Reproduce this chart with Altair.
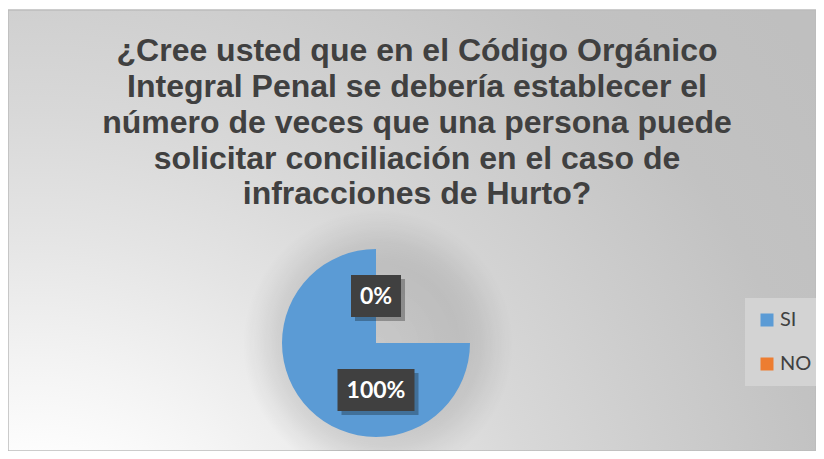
import math
import altair as alt
import pandas as pd

# ---- data ----
categories = ["SI", "NO"]
values = [100, 0]
colors = ["#5b9bd5", "#ed7d31"]
title_lines = [
    "¿Cree usted que en el Código Orgánico",
    "Integral Penal se debería establecer el",
    "número de veces que una persona puede",
    "solicitar conciliación en el caso de",
    "infracciones de Hurto?",
]

df = pd.DataFrame({"cat": categories, "value": values, "order": list(range(len(categories)))})

# ---- layout (styles) ----
W, H = 808, 441
CX, CY = 368, 333
R = 94
LABEL_DY = 47

bg_gradient = {
    "gradient": "radial",
    "x1": 0.03, "y1": 1.0, "r1": 0,
    "x2": 0.03, "y2": 1.0, "r2": 1.2,
    "stops": [
        {"offset": 0.0, "color": "#ffffff"},
        {"offset": 0.167, "color": "#ffffff"},
        {"offset": 0.283, "color": "#f3f3f3"},
        {"offset": 0.417, "color": "#e4e4e4"},
        {"offset": 0.54, "color": "#d8d8d8"},
        {"offset": 0.683, "color": "#cdcdcd"},
        {"offset": 0.833, "color": "#c2c2c2"},
        {"offset": 1.0, "color": "#bfbfbf"},
    ],
}

halo_gradient = {
    "gradient": "radial",
    "x1": 0.5, "y1": 0.5, "r1": 0,
    "x2": 0.5, "y2": 0.5, "r2": 0.5,
    "stops": [
        {"offset": 0.0, "color": "rgba(0,0,0,0.10)"},
        {"offset": 0.6, "color": "rgba(0,0,0,0.12)"},
        {"offset": 0.75, "color": "rgba(0,0,0,0.09)"},
        {"offset": 0.88, "color": "rgba(0,0,0,0.04)"},
        {"offset": 1.0, "color": "rgba(0,0,0,0)"},
    ],
}

one = alt.Data(values=[{"k": 1}])

bg = alt.Chart(one).mark_rect(fill=bg_gradient, stroke="#bcbcbc", strokeWidth=1.5).encode(
    x=alt.value(0), x2=alt.value("width"), y=alt.value(0), y2=alt.value("height")
)

halo = alt.Chart(one).mark_arc(
    theta=0, theta2=2 * math.pi, outerRadius=135, fill=halo_gradient, strokeWidth=0
).encode(x=alt.value(CX + 2), y=alt.value(CY + 2))

pie = alt.Chart(df).mark_arc(outerRadius=R, strokeWidth=0).encode(
    theta=alt.Theta("value:Q", stack=True, scale=alt.Scale(range=[math.pi / 2, 2 * math.pi])),
    color=alt.Color(
        "cat:N",
        scale=alt.Scale(domain=categories, range=colors),
        legend=alt.Legend(
            orient="none", legendX=737, legendY=288, title=None,
            fillColor="#d3d3d3", padding=12, symbolType="square", symbolSize=169,
            symbolStrokeWidth=0, labelFont="Lato", labelFontSize=20,
            labelColor="#404040", rowPadding=24, labelOffset=3,
        ),
    ),
    order=alt.Order("order:Q"),
    x=alt.value(CX), y=alt.value(CY),
)

labeled = alt.Chart(df).transform_joinaggregate(total="sum(value)").transform_calculate(
    label="format(datum.value / datum.total, '.0%')"
)

def box_shape(w, h):
    r = h / w
    return f"M-1,{-r} L1,{-r} L1,{r} L-1,{r} Z", w * w

layers = [bg, halo, pie]
for cat, dy, bw in [("SI", LABEL_DY, 77), ("NO", -LABEL_DY, 50)]:
    path, size = box_shape(bw, 42)
    sub = labeled.transform_filter(alt.datum.cat == cat)
    shadow = sub.mark_point(shape=path, size=size, filled=True, color="#000000", opacity=0.28, strokeWidth=0).encode(
        x=alt.value(CX + 4), y=alt.value(CY + dy + 4)
    )
    box = sub.mark_point(shape=path, size=size, filled=True, color="#404040", opacity=1, strokeWidth=0).encode(
        x=alt.value(CX), y=alt.value(CY + dy)
    )
    txt = sub.mark_text(font="Lato", fontWeight="bold", fontSize=23, color="#ffffff", baseline="middle", align="center").encode(
        text="label:N", x=alt.value(CX), y=alt.value(CY + dy + 1)
    )
    layers += [shadow, box, txt]

chart = alt.layer(*layers).properties(
    width=W, height=H,
    autosize=alt.AutoSizeParams(type="none"),
    padding={"left": 0, "top": 2, "right": 0, "bottom": 0},
    title=alt.TitleParams(
        text=title_lines, font="Liberation Sans", fontWeight="bold", fontSize=32,
        color="#404040", lineHeight=35.7, anchor="middle", orient="top", frame="group",
        offset=0, dy=227, dx=5, baseline="alphabetic",
    ),
).configure_view(stroke=None)

chart.save("out.html", embed_options={"renderer": "svg", "actions": False})
